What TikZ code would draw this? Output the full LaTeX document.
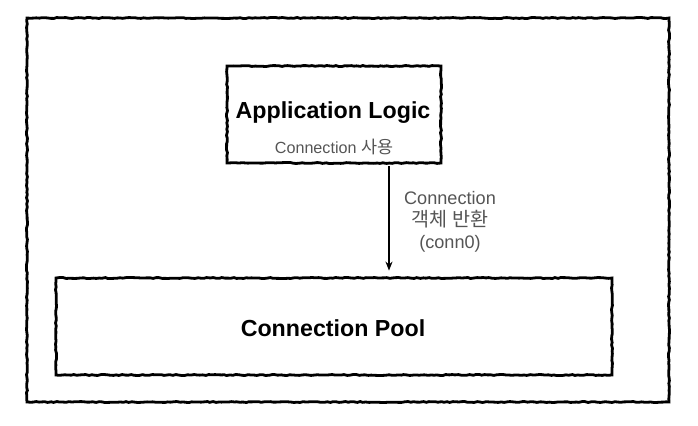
\documentclass[tikz,border=0pt]{standalone}
\usepackage{fontspec}
\setmainfont{Liberation Sans}
\newfontfamily\kr[Scale=1.08]{Noto Sans CJK KR}
\usetikzlibrary{decorations.pathmorphing,arrows.meta}
\definecolor{txtgray}{HTML}{555555}
\begin{document}
\begin{tikzpicture}[x=1bp,y=-1bp,
  box/.style={draw=black, line width=2.8bp, inner sep=0pt,
    decorate, decoration={random steps,segment length=3bp,amplitude=0.5bp}},
  title/.style={font=\fontsize{23.3}{27}\selectfont\bfseries, text=black},
  sub/.style={font=\fontsize{16.2}{19}\selectfont, text=txtgray},
  lbl/.style={font=\fontsize{18.2}{22}\selectfont, text=txtgray, align=center},
  conn/.style={line width=1.5bp, -{Stealth[length=9bp,width=7bp]}}
]
\useasboundingbox (0,0) rectangle (698,425);
\node[box, minimum width=642bp, minimum height=384bp] (outer) at (348,210) {};
\node[box, minimum width=214bp, minimum height=97bp] (app) at (334,114.5) {};
\node[box, minimum width=556bp, minimum height=97bp] (pool) at (334,326.5) {};
\node[title] (apptitle) at (333,113) {Application Logic};
\node[sub] (appsub) at (334,147) {Connection {\kr 사용}};
\node[title] (pooltitle) at (333,328) {Connection Pool};
\draw[conn, shorten <=2bp, shorten >=6bp] ([xshift=55bp]app.south) -- ([xshift=55bp]pool.north);
\node[lbl] (arrlbl) at (450,222) {Connection\\{\kr 객체 반환}\\(conn0)};
\end{tikzpicture}
\end{document}
